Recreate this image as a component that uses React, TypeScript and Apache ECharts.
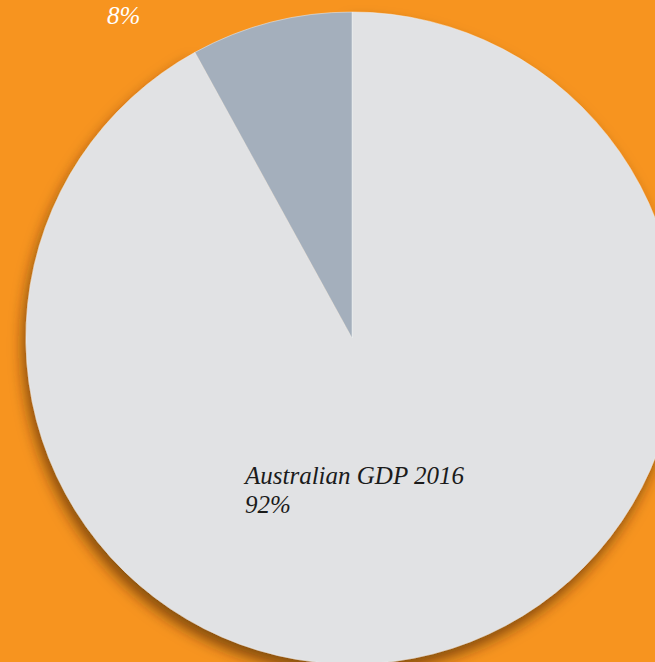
import React, { useEffect, useRef } from "react";
import * as echarts from "echarts";

const categories = ["Australian GDP 2016", "Other"];
const values = [92, 8];
const percentLabels = ["92%", "8%"];

export default function App() {
  const ref = useRef<HTMLDivElement>(null);
  useEffect(() => {
    const chart = echarts.init(ref.current!, null, { renderer: "svg" });
    chart.setOption({
      animation: false,
      backgroundColor: "#F7941F",
      series: [
        {
          type: "pie",
          center: [352, 338],
          radius: [0, 326],
          startAngle: 90,
          clockwise: true,
          data: categories.map((c, i) => ({
            name: c,
            value: values[i],
            itemStyle:
              i === 0
                ? {
                    color: "#E1E2E4",
                    shadowBlur: 14,
                    shadowOffsetX: -3,
                    shadowOffsetY: 9,
                    shadowColor: "rgba(60,30,0,0.6)",
                  }
                : { color: "#A4AFBC" },
            label: {
              color: i === 0 ? "#1b1b1b" : "#ffffff",
              formatter: i === 0 ? `${c}\n${percentLabels[i]}` : percentLabels[i],
            },
          })),
          itemStyle: {
            borderColor: "#EEF0F2",
            borderWidth: 0.5,
          },
          label: {
            show: true,
            position: "inside",
            fontFamily: "Liberation Serif",
            fontStyle: "italic",
            fontSize: 25,
            lineHeight: 29,
            align: "left",
          },
          labelLine: { show: false },
          labelLayout: (p: any) =>
            p.dataIndex === 0
              ? { x: 245, y: 490, align: "left", verticalAlign: "middle" }
              : { x: 107, y: 15, align: "left", verticalAlign: "middle" },
          emphasis: { disabled: true },
        },
      ],
    });
    return () => chart.dispose();
  }, []);
  return (
    <div
      ref={ref}
      style={{ position: "fixed", left: 0, top: 0, width: 655, height: 662 }}
    />
  );
}
